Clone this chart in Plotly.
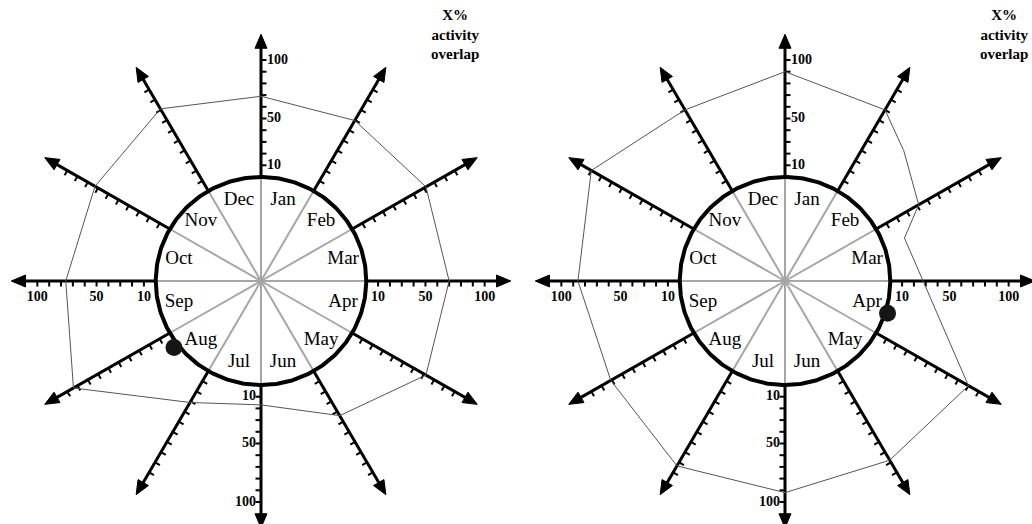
import numpy as np
import plotly.graph_objects as go

# ---------------- data ----------------
months = ["Jan", "Feb", "Mar", "Apr", "May", "Jun", "Jul", "Aug", "Sep", "Oct", "Nov", "Dec"]
month_angles = [75, 45, 15, -15, -45, -75, -105, -135, -165, 165, 135, 105]
spoke_angles = [90, 60, 30, 0, -30, -60, -90, -120, -150, 180, 150, 120]
tick_values = [10, 20, 30, 40, 50, 60, 70, 80, 90, 100]
label_values = [10, 50, 100]
label_texts = ["10", "50", "100"]
axis_max = 122

left_angles = [90, 60, 30, 0, -30, -60, -90, -120, -150, 180, 150, 120]
left_values = [69, 69.5, 72, 70, 72, 44, 17, 31, 94, 76, 73, 81]
left_dot = (217.7, 4)

right_angles = [90, 60, 48, 30, 20, -30, -60, -90, -120, -150, 180, 150, 120]
right_values = [90, 80, 61, 41.5, 18.5, 90, 88, 92, 93.6, 81, 86, 100, 80]
right_dot = (-17.7, 2)

title_text = "X%<br>activity<br>overlap"

# ---------------- layout constants ----------------
W, H = 1032, 524
R0, K = 104.0, 1.17          # circle radius (px) and px per unit
SX = 1.012                   # slight horizontal stretch seen in the reference
CY = 281
panels = [
    dict(cx=261, angles=left_angles, values=left_values, dot=left_dot, tx=455),
    dict(cx=785, angles=right_angles, values=right_values, dot=right_dot, tx=1004),
]
SERIF = "Liberation Serif, Times New Roman, serif"


def rad(v):
    return R0 + K * v


def pt(cx, ang, r):
    a = np.deg2rad(ang)
    return cx + SX * r * np.cos(a), CY - r * np.sin(a)


fig = go.Figure()

for p in panels:
    cx = p["cx"]
    # gray inner spokes
    xs, ys = [], []
    for a in spoke_angles:
        x0, y0 = pt(cx, a, 0)
        x1, y1 = pt(cx, a, R0)
        xs += [x0, x1, None]
        ys += [y0, y1, None]
    fig.add_trace(go.Scatter(x=xs, y=ys, mode="lines",
                             line=dict(color="#a6a6a6", width=2), hoverinfo="skip"))

    # black outer axes (shaft)
    head_len, head_half = 14, 6
    xs, ys = [], []
    for a in spoke_angles:
        x0, y0 = pt(cx, a, rad(0))
        x1, y1 = pt(cx, a, rad(axis_max) - head_len + 2)
        xs += [x0, x1, None]
        ys += [y0, y1, None]
    fig.add_trace(go.Scatter(x=xs, y=ys, mode="lines",
                             line=dict(color="black", width=3), hoverinfo="skip"))

    # tick marks
    tl = 5.5
    xs, ys = [], []
    for a in spoke_angles:
        ar = np.deg2rad(a)
        if -90 <= a <= 90:
            px, py = np.sin(ar), -np.cos(ar)      # clockwise side (math coords)
        else:
            px, py = -np.sin(ar), np.cos(ar)      # counter-clockwise side
        for v in tick_values:
            x0, y0 = pt(cx, a, rad(v))
            xs += [x0, x0 + tl * px, None]
            ys += [y0, y0 - tl * py, None]
    fig.add_trace(go.Scatter(x=xs, y=ys, mode="lines",
                             line=dict(color="black", width=2), hoverinfo="skip"))

    # arrowheads
    for a in spoke_angles:
        ar = np.deg2rad(a)
        tipx, tipy = pt(cx, a, rad(axis_max))
        bx, by = pt(cx, a, rad(axis_max) - head_len)
        nx, ny = -np.sin(ar), -np.cos(ar)   # perpendicular in screen coords
        fig.add_trace(go.Scatter(
            x=[tipx, bx + head_half * nx, bx - head_half * nx, tipx],
            y=[tipy, by + head_half * ny, by - head_half * ny, tipy],
            mode="lines", fill="toself", fillcolor="black",
            line=dict(color="black", width=1), hoverinfo="skip"))

    # central circle
    th = np.linspace(0, 360, 361)
    cxs, cys = pt(cx, th, R0)
    fig.add_trace(go.Scatter(x=cxs, y=cys, mode="lines",
                             line=dict(color="black", width=4), hoverinfo="skip"))

    # data polygon
    ang = list(p["angles"]) + [p["angles"][0]]
    val = list(p["values"]) + [p["values"][0]]
    px_, py_ = pt(cx, np.array(ang, float), rad(np.array(val, float)))
    fig.add_trace(go.Scatter(x=px_, y=py_, mode="lines",
                             line=dict(color="#555555", width=1), hoverinfo="skip"))

    # month labels
    mx, my = pt(cx, np.array(month_angles, float), 84)
    fig.add_trace(go.Scatter(x=mx, y=my, mode="text", text=months,
                             textposition="middle center",
                             textfont=dict(family=SERIF, size=19, color="black"),
                             hoverinfo="skip"))

    # axis labels on the four cardinal axes
    lx, ly, lt, lp = [], [], [], []
    for v, t in zip(label_values, label_texts):
        x, y = pt(cx, 90, rad(v)); lx.append(x + 6); ly.append(y); lt.append(t); lp.append("middle right")
        x, y = pt(cx, -90, rad(v)); lx.append(x - 5); ly.append(y); lt.append(t); lp.append("middle left")
        x, y = pt(cx, 0, rad(v)); lx.append(x); ly.append(y + 16); lt.append(t); lp.append("middle center")
        x, y = pt(cx, 180, rad(v)); lx.append(x); ly.append(y + 16); lt.append(t); lp.append("middle center")
    fig.add_trace(go.Scatter(x=lx, y=ly, mode="text", text=[f"<b>{s}</b>" for s in lt],
                             textposition=lp,
                             textfont=dict(family=SERIF, size=14, color="black"),
                             hoverinfo="skip"))

    # dot
    dx, dy = pt(cx, p["dot"][0], rad(p["dot"][1]))
    fig.add_trace(go.Scatter(x=[dx], y=[dy], mode="markers",
                             marker=dict(color="#151515", size=17), hoverinfo="skip"))

    # title text
    fig.add_annotation(x=p["tx"], y=34, xref="x", yref="y", text=f"<b>{title_text}</b>",
                       showarrow=False, align="center",
                       font=dict(family=SERIF, size=15, color="black"))

fig.update_layout(
    width=W, height=H, margin=dict(l=0, r=0, t=0, b=0),
    paper_bgcolor="white", plot_bgcolor="white", showlegend=False,
    hovermode=False,
    xaxis=dict(range=[0, W], visible=False, fixedrange=True),
    yaxis=dict(range=[H, 0], visible=False, fixedrange=True),
)
fig.write_html(
    "out.html",
    config={"displayModeBar": False, "staticPlot": True},
    post_script="document.body.style.margin='0';document.body.style.overflow='hidden';",
)
